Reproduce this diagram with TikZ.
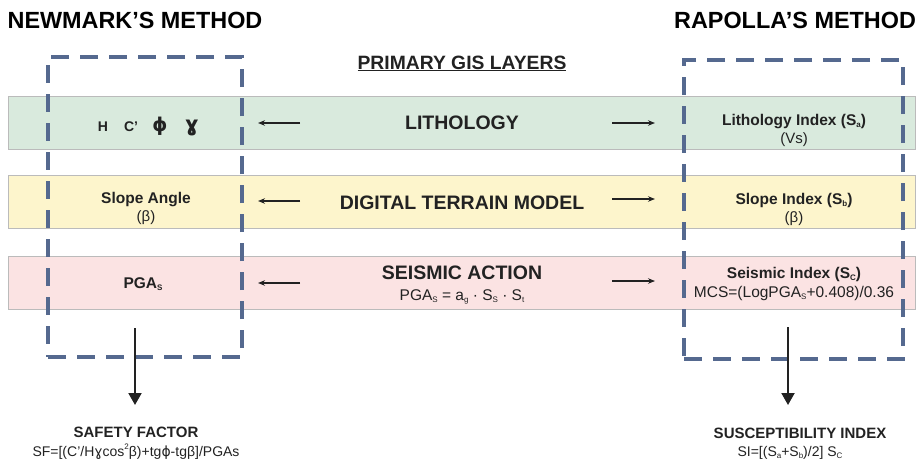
\documentclass[tikz,border=0pt]{standalone}
\usepackage{fontspec}
\setmainfont{Liberation Sans}
\newfontfamily\dvfont{DejaVu Sans}
\usetikzlibrary{arrows.meta}
\definecolor{bandgreen}{HTML}{D9EADD}
\definecolor{bandyellow}{HTML}{FDF5CC}
\definecolor{bandpink}{HTML}{FBE3E3}
\definecolor{bandline}{HTML}{BBBBBB}
\definecolor{dashblue}{HTML}{55698F}
\definecolor{ink}{HTML}{222222}
\newcommand{\fs}[1]{\fontsize{#1}{#1}\selectfont}
\newcommand{\sbs}[1]{\raisebox{-0.15em}{\fontsize{8}{8}\selectfont #1}}
\newcommand{\sps}[1]{\raisebox{0.5em}{\fontsize{8}{8}\selectfont #1}}
\begin{document}
\begin{tikzpicture}[x=1pt,y=-1pt,
  every node/.style={inner sep=0pt, outer sep=0pt, text=ink},
  band/.style={draw=bandline, line width=1pt, minimum width=907pt, minimum height=53pt, anchor=north west},
  dbox/.style={draw=dashblue, line width=3.3pt, dash pattern=on 18pt off 11pt, anchor=north west},
  txt/.style={anchor=base, align=center},
  thinarrow/.style={draw=ink, line width=1.1pt, -{Stealth[length=7pt,width=5.5pt]}},
  bigarrow/.style={draw=ink, line width=2pt, -{Triangle[length=12pt,width=13pt]}}
]
\useasboundingbox (0,0) rectangle (923,461);
% bands
\node[band, fill=bandgreen] (bandlith) at (8,96) {};
\node[band, fill=bandyellow] (banddtm) at (8,175) {};
\node[band, fill=bandpink] (bandseis) at (8,256) {};
% dashed boxes
\node[dbox, minimum width=194pt, minimum height=300pt] (newbox) at (48,57) {};
\node[dbox, minimum width=219pt, minimum height=299pt] (rapbox) at (684,60) {};
% titles
\node[txt, text=black] (newtitle) at (135,28) {\fs{23.4}\bfseries NEWMARK’S METHOD};
\node[txt, text=black] (raptitle) at (795,28) {\fs{23.4}\bfseries RAPOLLA’S METHOD};
\node[txt] (primary) at (462,69) {\fs{19.3}\bfseries \underline{PRIMARY GIS LAYERS}};
% centre labels
\node[txt] (lith) at (462,129) {\fs{19.5}\bfseries LITHOLOGY};
\node[txt] (dtm) at (462,209) {\fs{19.5}\bfseries DIGITAL TERRAIN MODEL};
\node[txt] (seis) at (462,279) {\fs{19.5}\bfseries SEISMIC ACTION};
\node[txt] (pgaform) at (462,300) {\fs{15.5}PGA\sbs{S} = a\sbs{g} · S\sbs{S} · S\sbs{t}};
% left contents
\node[txt] (pH) at (103,131) {\fs{14}\bfseries H};
\node[txt] (pC) at (131,131) {\fs{14}\bfseries C’};
\node[txt] (pphi) at (160,131) {\fs{19}\dvfont\bfseries ϕ};
\node[txt] (pgam) at (192,131) {\fs{21}\dvfont\bfseries ɣ};
\node[txt] (slopeang) at (146,203) {\fs{15.5}\bfseries Slope Angle};
\node[txt] (slopebeta) at (146,221) {\fs{15}(β)};
\node[txt] (pgaleft) at (143,288) {\fs{15.5}\bfseries PGA\sbs{S}};
% right contents
\node[txt] (lithidx) at (794,125) {\fs{15.5}\bfseries Lithology Index (S\sbs{a})};
\node[txt] (vs) at (794,143) {\fs{15}(Vs)};
\node[txt] (slopeidx) at (794,204) {\fs{15.5}\bfseries Slope Index (S\sbs{b})};
\node[txt] (slopeb2) at (794,222) {\fs{15}(β)};
\node[txt] (seisidx) at (794,278) {\fs{15.5}\bfseries Seismic Index (S\sbs{C})};
\node[txt] (mcs) at (794,297) {\fs{15.5}MCS=(LogPGA\sbs{S}+0.408)/0.36};
% bottom results
\node[txt] (sf) at (136,437) {\fs{15}\bfseries SAFETY FACTOR};
\node[txt] (sfform) at (136,456) {\fs{14}SF=[(C’/H{\dvfont ɣ}cos\sps{2}β)+tg{\dvfont ϕ}-tgβ]/PGAs};
\node[txt] (si) at (800,438) {\fs{15}\bfseries SUSCEPTIBILITY INDEX};
\node[txt] (siform) at (790,456) {\fs{14}SI=[(S\sbs{a}+S\sbs{b})/2] S\sbs{C}};
% band arrows
\coordinate (la1) at (300,123); \coordinate (lb1) at (258,123);
\coordinate (la2) at (300,201); \coordinate (lb2) at (258,201);
\coordinate (la3) at (300,283); \coordinate (lb3) at (258,283);
\coordinate (ra1) at (612,123); \coordinate (rb1) at (655,123);
\coordinate (ra2) at (612,199); \coordinate (rb2) at (655,199);
\coordinate (ra3) at (612,281); \coordinate (rb3) at (655,281);
\draw[thinarrow] (la1) -- (lb1);
\draw[thinarrow] (la2) -- (lb2);
\draw[thinarrow] (la3) -- (lb3);
\draw[thinarrow] (ra1) -- (rb1);
\draw[thinarrow] (ra2) -- (rb2);
\draw[thinarrow] (ra3) -- (rb3);
% down arrows
\coordinate (nd1) at (135,328); \coordinate (nd2) at (135,405);
\coordinate (rd1) at (788,327); \coordinate (rd2) at (788,405);
\draw[bigarrow] (nd1) -- (nd2);
\draw[bigarrow] (rd1) -- (rd2);
\end{tikzpicture}
\end{document}
